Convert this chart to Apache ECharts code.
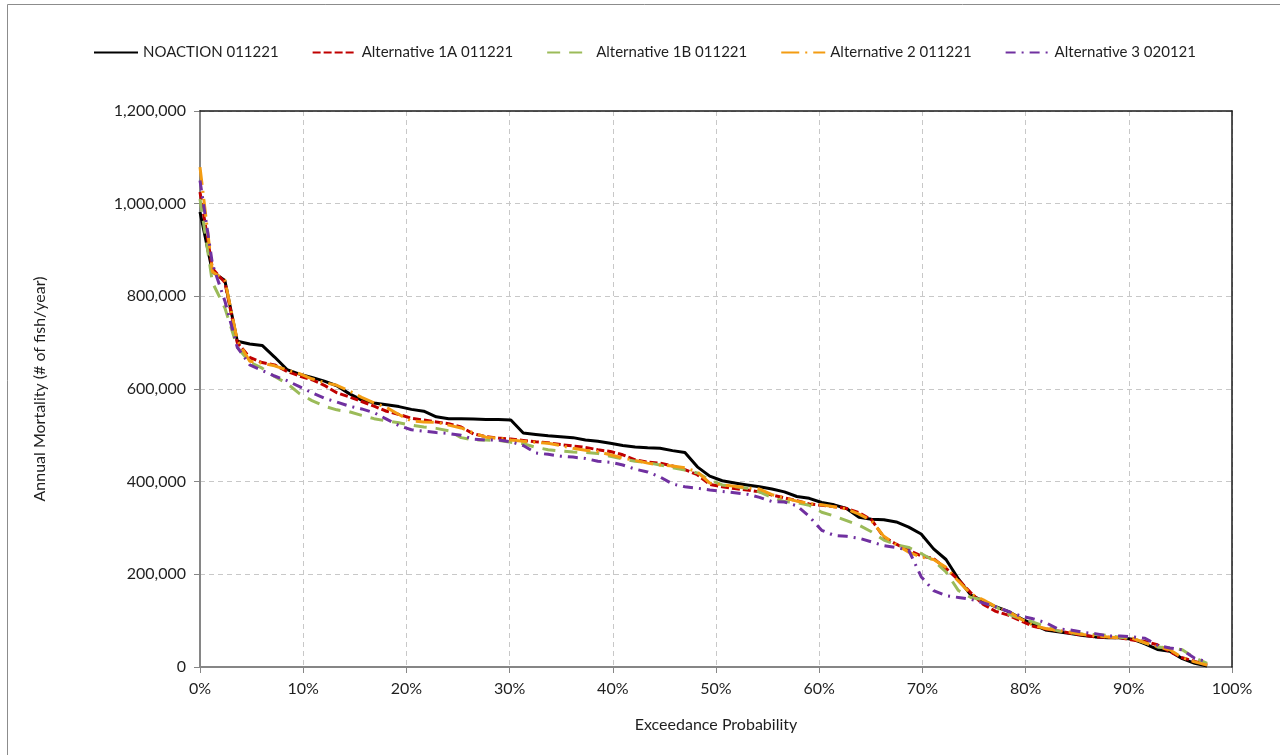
<!DOCTYPE html>
<html>
<head>
<meta charset="utf-8">
<title>Annual Mortality Exceedance</title>
<script src="https://cdn.jsdelivr.net/npm/echarts@6/dist/echarts.min.js"></script>
<style>
  html, body { margin: 0; padding: 0; background: #fff; }
  #chart { width: 1280px; height: 755px; }
</style>
</head>
<body>
<div id="chart"></div>
<script>
// Annual mortality (# of fish/year), sorted from highest to lowest, one value per simulated year
const noAction = [
  982000, 853000, 834000, 703000, 697000, 694000, 669000, 642000, 632000, 625000,
  617000, 607000, 590000, 576000, 570000, 566000, 562000, 556000, 552000, 540000,
  536000, 536000, 535000, 534000, 534000, 533000, 505000, 502000, 499000, 497000,
  495000, 490000, 487000, 483000, 478000, 475000, 473000, 472000, 467000, 463000,
  432000, 412000, 402000, 397000, 393000, 389000, 384000, 378000, 368000, 364000,
  355000, 350000, 342000, 323000, 319000, 318000, 313000, 302000, 287000, 255000,
  232000, 190000, 155000, 142000, 130000, 120000, 105000, 92000, 80000, 76000,
  72000, 68000, 65000, 63000, 63000, 60000, 50000, 38000, 34000, 18000,
  8000, 2000
];
const alt1A = [
  1025000, 860000, 830000, 700000, 668000, 657000, 652000, 638000, 628000, 620000,
  608000, 592000, 583000, 573000, 563000, 552000, 545000, 537000, 533000, 529000,
  525000, 518000, 503000, 497000, 494000, 492000, 489000, 486000, 484000, 480000,
  477000, 474000, 469000, 465000, 458000, 447000, 442000, 440000, 434000, 426000,
  415000, 394000, 389000, 385000, 382000, 378000, 371000, 365000, 359000, 352000,
  349000, 346000, 342000, 333000, 318000, 280000, 265000, 252000, 240000, 234000,
  213000, 188000, 160000, 135000, 120000, 112000, 100000, 88000, 82000, 78000,
  73000, 69000, 65000, 64000, 63000, 58000, 55000, 48000, 33000, 20000,
  12000, 5000
];
const alt1B = [
  1010000, 830000, 775000, 690000, 658000, 645000, 627000, 612000, 590000, 575000,
  563000, 555000, 551000, 543000, 536000, 531000, 527000, 522000, 518000, 515000,
  510000, 495000, 490000, 490000, 489000, 485000, 482000, 474000, 469000, 466000,
  464000, 463000, 461000, 455000, 449000, 444000, 441000, 436000, 430000, 425000,
  419000, 404000, 393000, 389000, 386000, 378000, 366000, 357000, 355000, 349000,
  334000, 326000, 316000, 306000, 292000, 274000, 264000, 258000, 245000, 230000,
  205000, 165000, 150000, 145000, 130000, 114000, 104000, 97000, 87000, 78000,
  74000, 71000, 70000, 68000, 64000, 62000, 52000, 43000, 41000, 37000,
  20000, 8000
];
const alt2 = [
  1079000, 853000, 835000, 705000, 660000, 656000, 650000, 641000, 633000, 622000,
  614000, 608000, 596000, 582000, 570000, 560000, 545000, 531000, 529000, 528000,
  522000, 516000, 505000, 496000, 494000, 490000, 487000, 485000, 483000, 478000,
  472000, 468000, 465000, 458000, 451000, 446000, 440000, 436000, 434000, 430000,
  421000, 397000, 393000, 390000, 387000, 384000, 372000, 365000, 358000, 353000,
  350000, 346000, 341000, 330000, 316000, 282000, 264000, 248000, 237000, 232000,
  215000, 185000, 158000, 145000, 130000, 120000, 104000, 90000, 83000, 79000,
  75000, 70000, 67000, 65000, 63000, 62000, 52000, 44000, 37000, 20000,
  11000, 4000
];
const alt3 = [
  1050000, 870000, 790000, 690000, 652000, 640000, 628000, 618000, 605000, 592000,
  580000, 572000, 563000, 557000, 549000, 535000, 521000, 512000, 509000, 506000,
  504000, 500000, 492000, 490000, 490000, 486000, 478000, 462000, 459000, 455000,
  453000, 450000, 444000, 442000, 436000, 427000, 421000, 410000, 395000, 389000,
  386000, 382000, 379000, 376000, 373000, 366000, 357000, 356000, 348000, 325000,
  295000, 284000, 282000, 278000, 270000, 262000, 258000, 252000, 195000, 165000,
  154000, 150000, 146000, 138000, 130000, 120000, 110000, 104000, 96000, 82000,
  80000, 75000, 72000, 67000, 67000, 65000, 62000, 47000, 41000, 37000,
  19000, 11000
];

const seriesNames = [
  'NOACTION 011221',
  'Alternative 1A 011221',
  'Alternative 1B 011221',
  'Alternative 2 011221',
  'Alternative 3 020121'
];

// Exceedance probability of each ranked year: rank / (n + 1)
const exceedance = noAction.map((_, rank) => rank / (noAction.length + 1));
const pairs = vals => vals.map((v, i) => [exceedance[i], v]);

const FONT = 'Lato, "Open Sans", sans-serif';
const TEXT = '#1f1f1f';
const styles = [
  { color: '#000000', width: 3, type: 'solid' },
  { color: '#c00000', width: 3, type: [8, 3] },
  { color: '#9bbb59', width: 3, type: [13, 9] },
  { color: '#f39c12', width: 3, type: [18, 6, 2, 6] },
  { color: '#7030a0', width: 3, type: [10, 6, 2, 6] }
];
const dataSets = [noAction, alt1A, alt1B, alt2, alt3];

// Plain axis used only to draw the dark top / right frame of the plot
const frameAxis = (pos, extra) => Object.assign({
  type: 'value', position: pos,
  axisLine: { show: true, onZero: false, lineStyle: { color: '#1a1a1a', width: 1.5 } },
  axisTick: { show: false }, axisLabel: { show: false }, splitLine: { show: false }
}, extra);

const chart = echarts.init(document.getElementById('chart'), null, { renderer: 'canvas' });
chart.setOption({
  animation: false,
  backgroundColor: '#ffffff',
  textStyle: { fontFamily: FONT },
  graphic: [{
    type: 'rect',
    shape: { x: 7.5, y: 4.5, width: 1300, height: 800 },
    style: { fill: 'none', stroke: '#8c8c8c', lineWidth: 1 },
    silent: true
  }],
  legend: {
    top: 40,
    left: 88,
    itemWidth: 44,
    itemHeight: 8,
    itemGap: 33,
    itemStyle: { opacity: 0 },
    textStyle: { fontSize: 15, color: TEXT, fontFamily: FONT },
    data: seriesNames
  },
  grid: {
    left: 200, top: 111, right: 48, bottom: 88,
    containLabel: false
  },
  xAxis: [{
    type: 'value',
    min: 0, max: 1, interval: 0.1,
    name: 'Exceedance Probability',
    nameLocation: 'middle',
    nameGap: 50,
    nameTextStyle: { fontSize: 16, color: TEXT },
    axisLine: { show: true, lineStyle: { color: '#868686', width: 2 } },
    axisTick: { show: true, length: 6, lineStyle: { color: '#868686' } },
    axisLabel: {
      fontSize: 16, color: TEXT, margin: 14,
      formatter: v => Math.round(v * 100) + '%'
    },
    splitLine: { show: true, lineStyle: { color: '#c8c8c8', type: [5, 4], width: 1 } },
    z: 1
  }, frameAxis('top', { min: 0, max: 1, z: 3 })],
  yAxis: [{
    type: 'value',
    min: 0, max: 1200000, interval: 200000,
    name: 'Annual Mortality (# of fish/year)',
    nameLocation: 'middle',
    nameGap: 152,
    nameTextStyle: { fontSize: 16, color: TEXT },
    axisLine: { show: true, lineStyle: { color: '#868686', width: 2 } },
    axisTick: { show: true, length: 6, lineStyle: { color: '#868686' } },
    axisLabel: {
      fontSize: 16, color: TEXT, margin: 14,
      formatter: v => v.toLocaleString('en-US')
    },
    splitLine: { show: true, lineStyle: { color: '#c8c8c8', type: [5, 4], width: 1 } },
    z: 1
  }, frameAxis('right', { min: 0, max: 1200000, z: 3 })],
  series: dataSets.map((vals, k) => ({
    name: seriesNames[k],
    type: 'line',
    xAxisIndex: 0,
    yAxisIndex: 0,
    data: pairs(vals),
    symbol: 'none',
    showSymbol: false,
    smooth: false,
    color: styles[k].color,
    lineStyle: { color: styles[k].color, width: styles[k].width, type: styles[k].type },
    z: 2 + k
  }))
});
</script>
</body>
</html>
